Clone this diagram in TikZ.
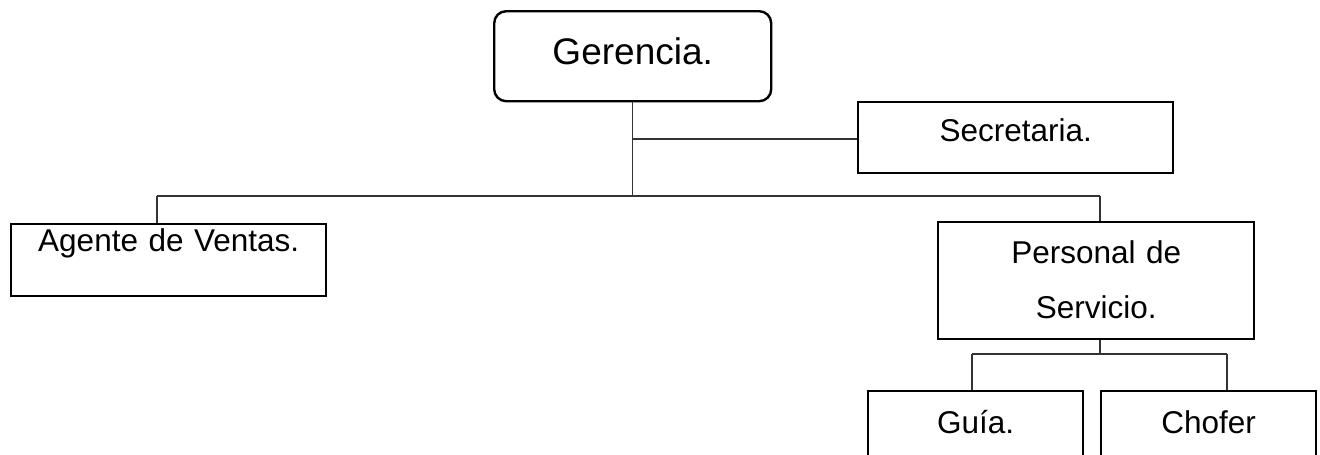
\documentclass[tikz,border=0pt]{standalone}
\usepackage{fontspec}
\setmainfont{Liberation Sans}
\usetikzlibrary{calc}
\def\drawlink{\draw[color=black!80, line width=1.3pt]}

\begin{document}
\begin{tikzpicture}[x=1pt,y=-1pt,
  box/.style={draw=black,line width=2.4pt,inner sep=0pt,anchor=north west,
    align=center,font=\fontsize{31.5}{55}\selectfont},
  topbox/.style={box,rounded corners=12pt,font=\fontsize{37}{44}\selectfont}]
\clip (0,0) rectangle (1320,455);

% -------- boxes ---------
\node[topbox,text width=277pt,text height=53pt,text depth=37pt] (ger) at (493,10) {Gerencia.};
\node[box,text width=315pt,text height=39pt,text depth=32pt] (sec) at (857,101) {Secretaria.};
\node[box,text width=315pt,text height=27pt,text depth=45pt] (age) at (10,223) {Agente de Ventas.};
\node[box,text width=316pt,text height=41pt,text depth=76pt] (per) at (937,221) {Personal de\\Servicio.};
\node[box,text width=215pt,text height=42pt,text depth=40pt] (gui) at (867,390) {Guía.};
\node[box,text width=215pt,text height=42pt,text depth=40pt] (cho) at (1100,390) {Chofer};

% -------- links from Gerencia ---------
\coordinate (secline) at (632,139);
\coordinate (busL) at (157,196);
\coordinate (busR) at (1100,196);
\drawlink (ger.south) -- (ger.south |- busL);
\drawlink (secline) -- (secline -| sec.west);
\drawlink (busL) -- (busR);
\drawlink (busL) -- (busL |- age.north);
\drawlink (busR) -- (busR |- per.north);

% -------- links under Personal de Servicio ---------
\coordinate (subL) at (972,354);
\coordinate (subR) at (1227,354);
\drawlink (busR |- per.south) -- (busR |- subL);
\drawlink (subL) -- (subR);
\drawlink (subL) -- (subL |- gui.north);
\drawlink (subR) -- (subR |- cho.north);
\end{tikzpicture}
\end{document}
